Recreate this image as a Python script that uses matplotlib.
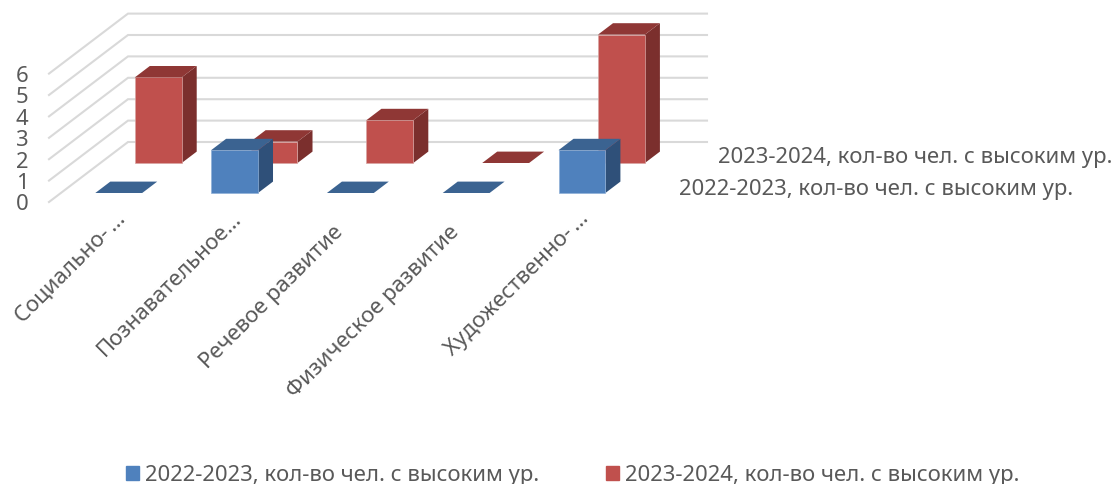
import matplotlib
matplotlib.use("Agg")
import matplotlib.pyplot as plt
from matplotlib.patches import Polygon, Patch

plt.rcParams['font.family'] = ['Noto Sans', 'DejaVu Sans']

# Data
categories = ["Социально-\u2009…", "Познавательное…", "Речевое развитие",
              "Физическое развитие", "Художественно-\u2009…"]
series_2022 = [0, 2, 0, 0, 2]
series_2023 = [4, 1, 2, 0, 6]
name_2022 = "2022-2023, кол-во чел. с высоким ур."
name_2023 = "2023-2024, кол-во чел. с высоким ур."
y_ticks = [0, 1, 2, 3, 4, 5, 6]

text_color = '#595959'
grid_color = '#d9d9d9'
font_size = 15.9

W, H = 1116, 484
PX_X = 115.8   # pixels per category
PX_Y = 21.4    # pixels per value unit
X0, Y0 = 49, 202  # front left corner of the floor
DEPTH_X = 79 / PX_X  # full depth of the box, in data units
DEPTH_Y = 60 / PX_Y


def shift(x, y, depth):
    return x + depth * DEPTH_X, y + depth * DEPTH_Y


fig = plt.figure(figsize=(W / 100, H / 100), dpi=100)
ax = fig.add_axes([0, 0, 1, 1])
ax.set_xlim(-X0 / PX_X, (W - X0) / PX_X)
ax.set_ylim((Y0 - H) / PX_Y, Y0 / PX_Y)
ax.axis('off')

# walls
for v in y_ticks:
    bx, by = shift(0, v, 1)
    ax.plot([0, bx, bx + 5], [v, by, by], color=grid_color, lw=1.5, zorder=1,
            solid_joinstyle='miter')
    ax.text(-0.18, v - 0.14, str(v), ha='right', va='center', fontsize=font_size,
            color=text_color)


def draw_bars(values, depth, front, top, side, edge, z):
    bw = 0.405
    dd = 0.19
    for i, v in enumerate(values):
        cx, base = shift(i + 0.5, 0, depth)
        left = cx - bw / 2
        right = cx + bw / 2
        ox = dd * DEPTH_X
        oy = dd * DEPTH_Y
        if v > 0:
            ax.add_patch(Polygon([(right, base), (right + ox, base + oy),
                                  (right + ox, base + v + oy), (right, base + v)],
                                 fc=side, ec='none', zorder=z))
            ax.bar(cx, v, width=bw, bottom=base, color=front, edgecolor=edge,
                   linewidth=0.5, zorder=z)
        ax.add_patch(Polygon([(left, base + v), (right, base + v),
                              (right + ox, base + v + oy), (left + ox, base + v + oy)],
                             fc=top, ec='none', zorder=z))


draw_bars(series_2023, 0.65, '#c0504d', '#8f3735', '#7b2f2d', '#d9a5a3', 2)
draw_bars(series_2022, 0.15, '#4f81bd', '#3b6391', '#2f5079', '#8fb0d8', 3)

# category labels, the cut ones sit a bit further up and right
for i, name in enumerate(categories):
    if name.endswith("…"):
        lx, ly = i + 0.635, -0.65
    else:
        lx, ly = i + 0.513, -1.26
    ax.text(lx, ly, name, rotation=45, rotation_mode='anchor', ha='right',
            va='center', fontsize=font_size, color=text_color)

# labels of the depth axis
ax.text((1113 - X0) / PX_X, (Y0 - 158) / PX_Y, name_2023, ha='right', va='center',
        fontsize=font_size, color=text_color)
ax.text((1073 - X0) / PX_X, (Y0 - 189) / PX_Y, name_2022, ha='right', va='center',
        fontsize=font_size, color=text_color)

handles = [Patch(color='#4f81bd', label=name_2022), Patch(color='#c0504d', label=name_2023)]
fig.legend(handles=handles, loc='lower left', bbox_to_anchor=(0.0952, -0.045), ncols=2,
           frameon=False, fontsize=font_size, labelcolor=text_color, handlelength=0.6,
           handleheight=0.6, handletextpad=0.27, columnspacing=3.0)

fig.savefig('out.png', dpi=100)
